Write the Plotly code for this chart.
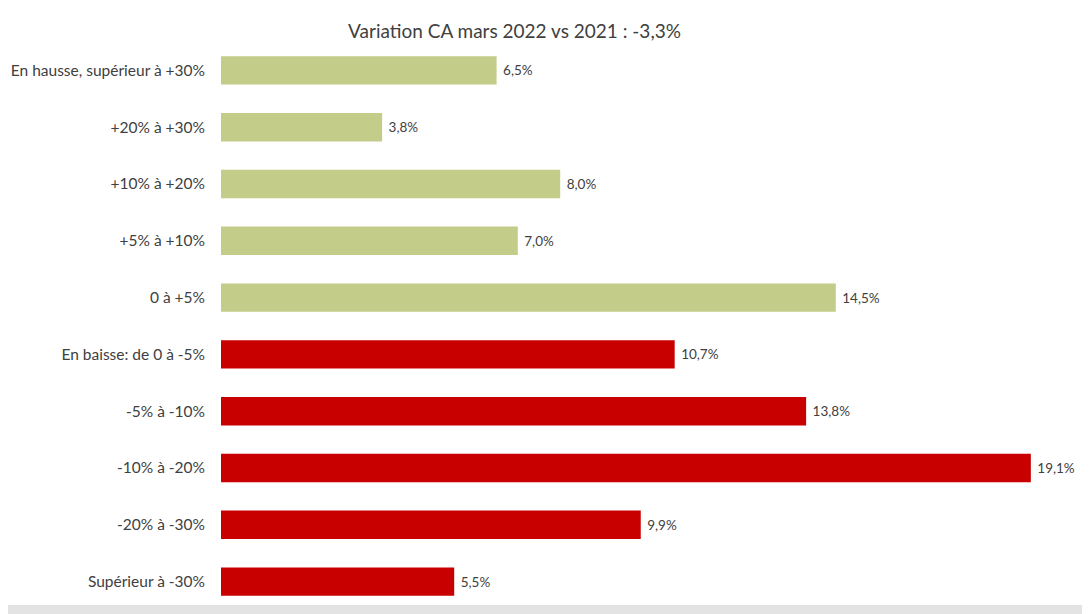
import plotly.graph_objects as go

# Répartition des variations de CA, mars 2022 vs mars 2021
categories = [
    "En hausse, supérieur à +30%",
    "+20% à +30%",
    "+10% à +20%",
    "+5% à +10%",
    "0 à +5%",
    "En baisse: de 0 à -5%",
    "-5% à -10%",
    "-10% à -20%",
    "-20% à -30%",
    "Supérieur à -30%",
]
shares = [6.5, 3.8, 8.0, 7.0, 14.5, 10.7, 13.8, 19.1, 9.9, 5.5]
is_up = [True, True, True, True, True, False, False, False, False, False]

GREEN = "#C3CC88"
RED = "#C80000"

colors = [GREEN if up else RED for up in is_up]
# French decimal comma, small gap before the label
labels = ["\u00a0" + f"{v:.1f}%".replace(".", ",") for v in shares]

fig = go.Figure(
    go.Bar(
        x=shares,
        y=categories,
        orientation="h",
        marker_color=colors,
        marker_line_width=0,
        text=labels,
        textposition="outside",
        textfont=dict(size=13.5, color="#404040"),
        cliponaxis=False,
        width=0.5,
    )
)

# page body adds 8px offset, margins compensate for it
fig.update_layout(
    width=1090,
    height=614,
    margin=dict(l=213, r=29, t=34, b=12),
    paper_bgcolor="white",
    plot_bgcolor="white",
    font=dict(family="Lato, Open Sans, sans-serif", size=15, color="#404040"),
    title=dict(
        text="Variation CA mars 2022 vs 2021 : -3,3%",
        xref="container",
        x=0.4647,
        xanchor="center",
        y=0.9625,
        yanchor="middle",
        font=dict(size=19, color="#404040"),
    ),
    showlegend=False,
)

fig.update_xaxes(range=[0, 20], visible=False, automargin=False)
fig.update_yaxes(
    autorange="reversed",
    automargin=False,
    ticks="",
    showline=False,
    showgrid=False,
    ticklabelstandoff=15,
    tickfont=dict(size=15.5, color="#404040"),
)

# light frame like the original screenshot (bottom strip + right edge)
fig.add_shape(type="rect", xref="paper", yref="paper",
              x0=-0.3, x1=1.05, y0=-0.03, y1=0.009,
              fillcolor="#E3E3E3", line_width=0, layer="below")
fig.add_shape(type="line", xref="paper", yref="paper",
              x0=1.0224, x1=1.0224, y0=-0.01, y1=1.08,
              line=dict(color="#D0D0D0", width=1))

fig.write_html("out.html")
